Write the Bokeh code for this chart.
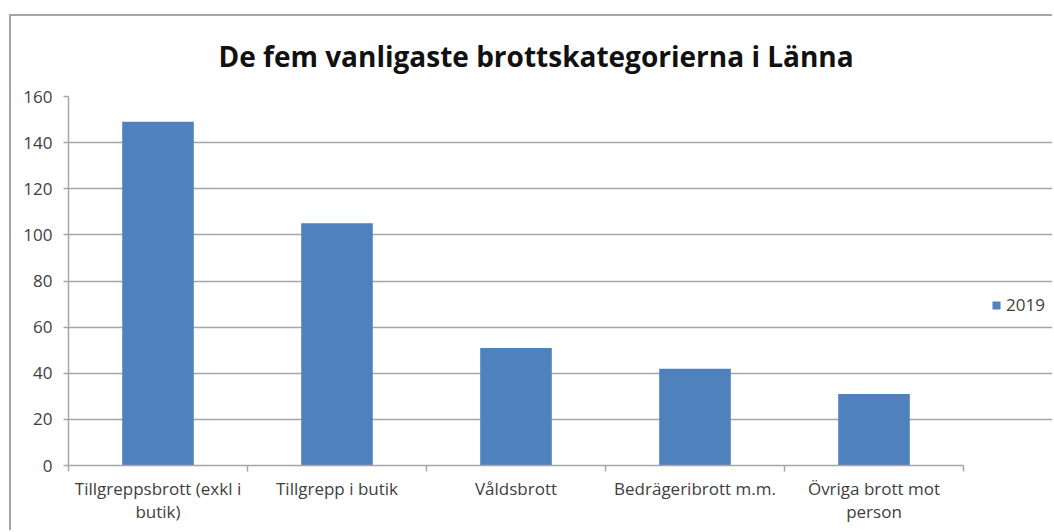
from bokeh.plotting import figure
from bokeh.models import (Range1d, LinearAxis, FixedTicker, Legend, LegendItem,
                          ColumnDataSource, Grid)
from bokeh.embed import file_html
from bokeh.resources import INLINE

# ---- data ----
title_text = "De fem vanligaste brottskategorierna i Länna"
categories = ["Tillgreppsbrott (exkl i\nbutik)", "Tillgrepp i butik", "Våldsbrott",
              "Bedrägeribrott m.m.", "Övriga brott mot\nperson"]
values_2019 = [149, 105, 51, 42, 31]
series_name = "2019"
y_ticks = [0, 20, 40, 60, 80, 100, 120, 140, 160]

BAR = "#4F81BD"
GRID = "#a6a6a6"
TXT = "#404040"
FONT = "Open Sans"

n = len(categories)
centers = [i + 0.5 for i in range(n)]
bounds = [i for i in range(n + 1)]

# layout (pixels)
W, H = 1043, 516
LEFT, TOP, BOTTOM = 57, 79, 67
PLOT_W = 895                      # width of the category area
FRAME_W = W - LEFT                # frame runs to the right edge (room for legend)
x_end = n * FRAME_W / PLOT_W

p = figure(width=W, height=H, output_backend="svg", toolbar_location=None,
           x_range=Range1d(0, x_end), y_range=Range1d(0, y_ticks[-1]),
           x_axis_type=None, y_axis_type=None,
           min_border_left=LEFT, min_border_right=0, min_border_top=TOP,
           min_border_bottom=BOTTOM)
p.outline_line_color = None
p.background_fill_color = "white"
p.border_fill_color = "white"
p.styles = {"border-top": "2px solid #a6a6a6", "border-left": "2px solid #a6a6a6",
            "margin-top": "14px", "margin-left": "9px"}

src = ColumnDataSource(dict(x=centers, top=values_2019, cat=categories))
r = p.vbar(x="x", top="top", width=0.4, source=src, fill_color=BAR, line_color=None)

# y axis
yax = LinearAxis(ticker=FixedTicker(ticks=y_ticks))
yax.axis_line_color = GRID
yax.axis_line_width = 1.5
yax.major_tick_line_color = GRID
yax.major_tick_line_width = 1.5
yax.major_tick_in = 0
yax.major_tick_out = 5
yax.minor_tick_line_color = None
yax.major_label_text_font = FONT
yax.major_label_text_font_size = "17px"
yax.major_label_text_color = TXT
yax.major_label_standoff = 11
p.add_layout(yax, "left")

# x axis
xax = LinearAxis(ticker=FixedTicker(ticks=centers, minor_ticks=bounds),
                 bounds=(0, n))
xax.major_label_overrides = {c: lab for c, lab in zip(centers, categories)}
xax.axis_line_color = GRID
xax.axis_line_width = 1.5
xax.major_tick_line_color = None
xax.major_tick_in = 0
xax.major_tick_out = 0
xax.minor_tick_line_color = GRID
xax.minor_tick_line_width = 1.5
xax.minor_tick_in = 0
xax.minor_tick_out = 6
xax.major_label_text_font = FONT
xax.major_label_text_font_size = "17px"
xax.major_label_text_color = TXT
xax.major_label_text_line_height = 1.0
xax.major_label_standoff = 5
p.add_layout(xax, "below")

p.ygrid.visible = False
p.xgrid.visible = False
g = Grid(dimension=1, ticker=FixedTicker(ticks=y_ticks[1:]), bounds=(0, n))
g.grid_line_color = GRID
g.grid_line_width = 1.5
p.add_layout(g)

# title
p.title.text = title_text
p.title.text_font = FONT
p.title.text_font_style = "bold"
p.title.text_font_size = "28px"
p.title.text_color = "#111111"
p.title.align = "left"
p.title.offset = 150
p.title.standoff = 40
p.title.vertical_align = "top"

legend = Legend(items=[LegendItem(label=series_name, renderers=[r])],
                location=(923, 149), orientation="vertical")
legend.glyph_width = 10
legend.glyph_height = 10
legend.label_text_font = FONT
legend.label_text_font_size = "17px"
legend.label_text_color = TXT
legend.border_line_color = None
legend.background_fill_alpha = 0
legend.padding = 2
legend.margin = 0
legend.label_standoff = 5
p.add_layout(legend, "center")

open("out.html", "w").write(file_html(p, INLINE))
